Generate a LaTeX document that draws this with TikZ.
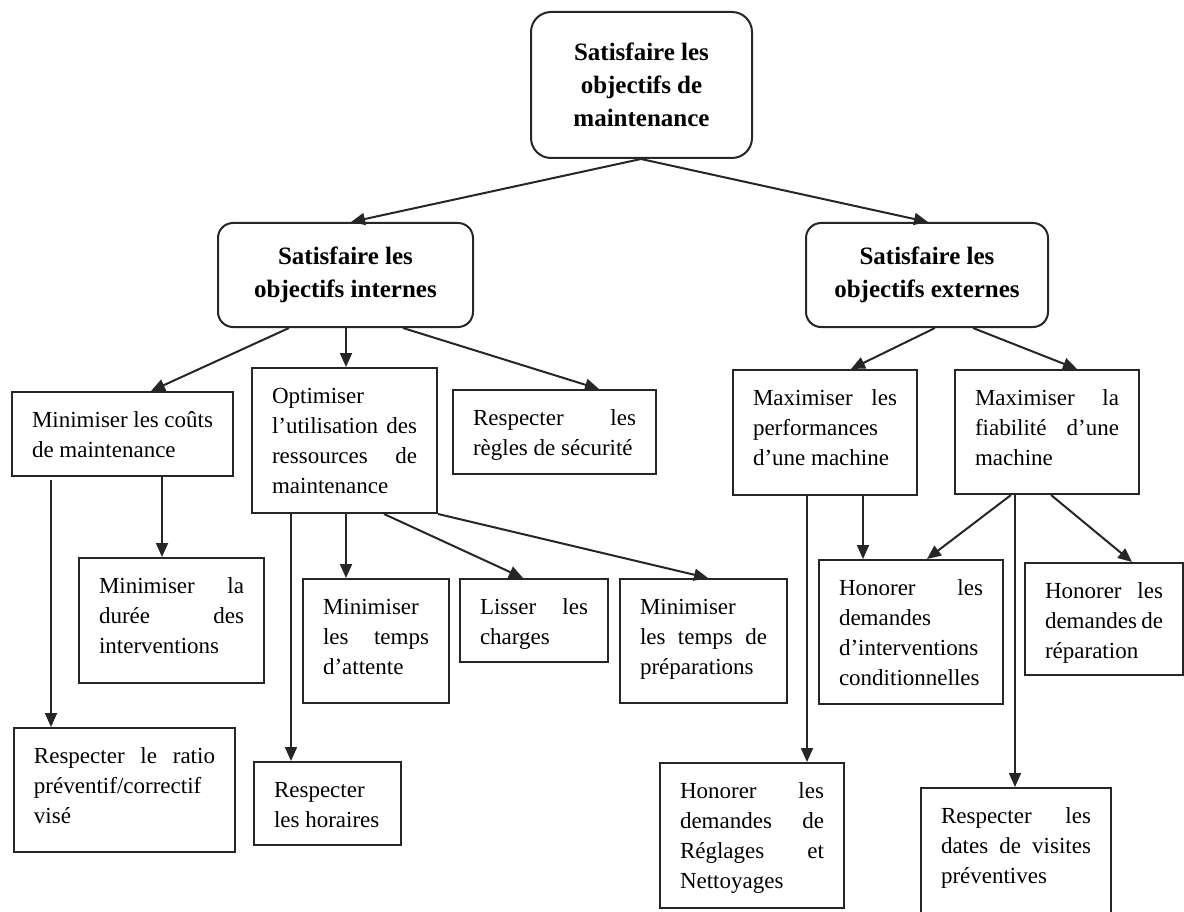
\documentclass[tikz,border=0pt]{standalone}
\usepackage{fontspec}
\setmainfont{Liberation Serif}
\usetikzlibrary{arrows.meta}
\newcommand{\jl}[1]{\makebox[\linewidth][s]{#1}}
\newcommand{\tbox}[6]{\node[sqbox, minimum width=#4pt, minimum height=#5pt] (#1) at (#2,#3) {\parbox[c][#5pt][t]{\dimexpr #4pt-40pt\relax}{\vspace*{14pt}\strut #6}};}
\tikzset{
  sqbox/.style={draw=black!85, line width=2pt, inner sep=0pt, anchor=north west, font=\fontsize{23}{30}\selectfont},
  rnd/.style={draw=black!85, line width=2pt, inner sep=0pt, anchor=north west, align=center, font=\bfseries\fontsize{25}{33}\selectfont},
  arr/.style={draw=black!85, line width=2pt, -{Triangle[length=14pt,width=12pt]}}
}
\begin{document}
\begin{tikzpicture}[x=1pt,y=-1pt]
\useasboundingbox (0,0) rectangle (1184,912);
\clip (0,0) rectangle (1184,912);
% level 0 and 1
\node[rnd, rounded corners=20pt, minimum width=221pt, minimum height=146pt] (root) at (530,11) {Satisfaire les\\objectifs de\\maintenance};
\node[rnd, rounded corners=15pt, minimum width=255pt, minimum height=104pt] (int) at (217,222) {Satisfaire les\\objectifs internes};
\node[rnd, rounded corners=15pt, minimum width=242pt, minimum height=104pt] (ext) at (805,222) {Satisfaire les\\objectifs externes};
% level 2
\tbox{cout}{11}{391}{221}{84}{\jl{Minimiser les coûts}\\de maintenance}
\tbox{opt}{251}{367}{185}{145}{Optimiser\\\jl{l’utilisation des}\\\jl{ressources de}\\maintenance}
\tbox{regl}{452}{389}{203}{84}{\jl{Respecter les}\\règles de sécurité}
\tbox{perf}{732}{369}{184}{125}{\jl{Maximiser les}\\performances\\d’une machine}
\tbox{fiab}{954}{369}{184}{124}{\jl{Maximiser la}\\\jl{fiabilité d’une}\\machine}
% level 3
\tbox{duree}{78}{557}{185}{125}{\jl{Minimiser la}\\\jl{durée des}\\interventions}
\tbox{ratio}{13}{727}{221}{124}{\jl{Respecter le ratio}\\préventif/correctif\\visé}
\tbox{hor}{253}{761}{147}{83}{Respecter\\les horaires}
\tbox{att}{302}{578}{146}{124}{Minimiser\\\jl{les temps}\\d’attente}
\tbox{lis}{459}{578}{148}{83}{\jl{Lisser les}\\charges}
\tbox{prep}{619}{578}{167}{124}{Minimiser\\\jl{les temps de}\\préparations}
\tbox{cond}{818}{559}{184}{144}{\jl{Honorer les}\\demandes\\d’interventions\\conditionnelles}
\tbox{rep}{1024}{562}{158}{112}{\jl{Honorer les}\\\jl{demandes de}\\réparation}
\tbox{net}{659}{762}{184}{145}{\jl{Honorer les}\\\jl{demandes de}\\\jl{Réglages et}\\Nettoyages}
\tbox{vis}{920}{787}{190}{163}{\jl{Respecter les}\\\jl{dates de visites}\\préventives}
% connectors
\draw[arr] ([xshift=-0.5pt]root.south) -- ([xshift=5.5pt]int.north);
\draw[arr] ([xshift=-0.5pt]root.south) -- ([xshift=1pt]ext.north);
\draw[arr] ([xshift=-56.5pt]int.south) -- ([xshift=28.5pt]cout.north);
\draw[arr] ([xshift=0.5pt]int.south) -- ([xshift=1.5pt]opt.north);
\draw[arr] ([xshift=57.5pt]int.south) -- ([xshift=44.5pt]regl.north);
\draw[arr] ([xshift=8pt]ext.south) -- ([xshift=26pt]perf.north);
\draw[arr] ([xshift=46pt]ext.south) -- ([xshift=30pt]fiab.north);
\draw[arr] ([xshift=-71.5pt,yshift=-3pt]cout.south) -- ([xshift=-73.5pt]ratio.north);
\draw[arr] ([xshift=39.5pt]cout.south) -- ([xshift=-9.5pt]duree.north);
\draw[arr] ([xshift=-53.5pt]opt.south) -- ([xshift=-36.5pt]hor.north);
\draw[arr] ([xshift=1.5pt]opt.south) -- ([xshift=-30pt]att.north);
\draw[arr] ([xshift=39.5pt]opt.south) -- ([xshift=-11pt]lis.north);
\draw[arr] (opt.south east) -- ([xshift=4.5pt]prep.north);
\draw[arr] ([xshift=-18pt]perf.south) -- ([xshift=55pt]net.north);
\draw[arr] ([xshift=38pt]perf.south) -- ([xshift=-48pt]cond.north);
\draw[arr] ([xshift=-36pt]fiab.south) -- ([xshift=16pt]cond.north);
\draw[arr] ([xshift=-32pt]fiab.south) -- ([xshift=-1pt]vis.north);
\draw[arr] ([xshift=4pt]fiab.south) -- ([xshift=28pt]rep.north);
\end{tikzpicture}
\end{document}
